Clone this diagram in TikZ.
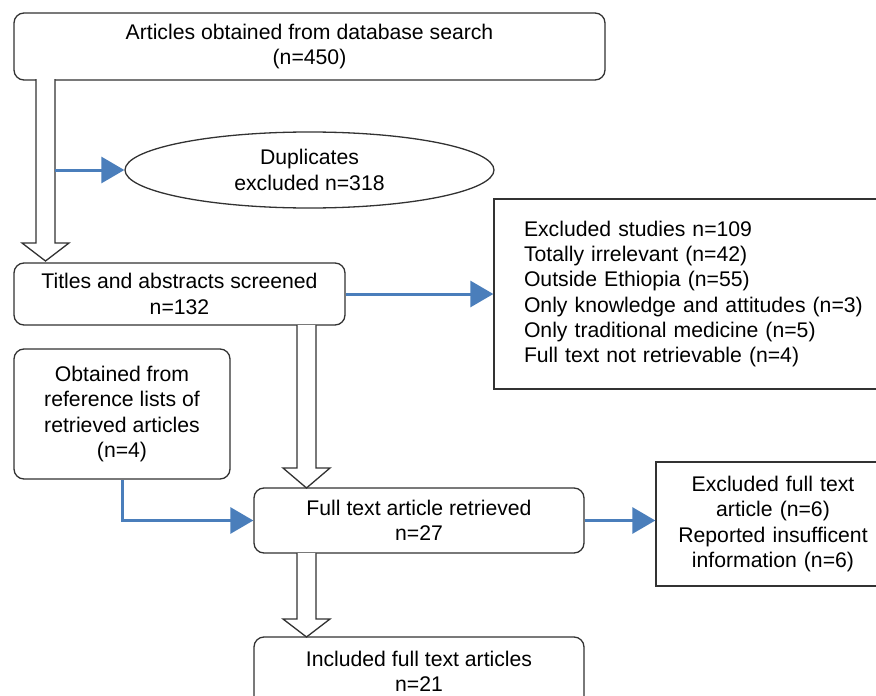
\documentclass[tikz,border=0pt]{standalone}
\usepackage{fontspec}
\setmainfont{Liberation Sans}
\usetikzlibrary{arrows.meta,shapes.geometric,calc}
\definecolor{flowblue}{RGB}{74,126,187}
\definecolor{edge}{RGB}{50,50,50}
\newcommand{\blockarrow}[4]{% cx, ytop, yneck, ytip
  \draw[hollow] (#1-9.5,#2) -- (#1-9.5,#3) -- (#1-23.5,#3) -- (#1,#4) -- (#1+23.5,#3) -- (#1+9.5,#3) -- (#1+9.5,#2);
}
\begin{document}
\begin{tikzpicture}[x=1pt,y=-1pt,
  every node/.style={font=\fontsize{21.2}{25.3}\selectfont},
  rbox/.style={draw=edge,line width=1.3pt,rounded corners=10pt,align=center,inner sep=0pt,fill=white},
  sbox/.style={draw=edge,line width=1.3pt,inner sep=0pt,fill=white},
  hollow/.style={draw=edge,line width=1.3pt,fill=white},
  bluearrow/.style={draw=flowblue,line width=3pt,-{Triangle[length=23pt,width=26pt]}}]
\useasboundingbox (0,0) rectangle (876,696);
\clip (0,0) rectangle (876,696);

\node[rbox,minimum width=591pt,minimum height=67pt] (top) at (309.5,46.5)
  {Articles obtained from database search\\(n=450)};
\node[ellipse,draw=edge,line width=1.3pt,minimum width=369pt,minimum height=76pt,inner sep=0pt,align=center] (dup) at (309.5,170)
  {Duplicates\\excluded n=318};
\node[rbox,minimum width=331pt,minimum height=62pt] (titles) at (179.5,294)
  {Titles and abstracts screened\\n=132};
\node[sbox,minimum width=396pt,minimum height=190pt,text width=356pt,inner xsep=30pt,align=left] (excl) at (702,294)
  {Excluded studies n=109\\Totally irrelevant (n=42)\\Outside Ethiopia (n=55)\\Only knowledge and attitudes (n=3)\\Only traditional medicine (n=5)\\Full text not retrievable (n=4)};
\node[rbox,minimum width=216pt,minimum height=130pt] (obt) at (122,414)
  {Obtained from\\reference lists of\\retrieved articles\\(n=4)};
\node[rbox,minimum width=330pt,minimum height=65pt] (ft) at (419,520.5)
  {Full text article retrieved\\n=27};
\node[sbox,minimum width=234pt,minimum height=124pt,text width=200pt,align=center] (eft) at (773,524)
  {Excluded full text\\article (n=6)\\Reported insufficent\\information (n=6)};
\node[rbox,minimum width=330pt,minimum height=70pt] (inc) at (419,672)
  {};
\node[align=center] (inctext) at (419,671) {Included full text articles\\n=21};

\blockarrow{45.5}{79}{243}{261}
\blockarrow{306.5}{325}{468}{488}
\blockarrow{306.5}{553}{619}{637}

\coordinate (shaft) at (55,170);
\draw[bluearrow] (shaft) -- (dup.west);
\draw[bluearrow] (titles.east) -- (titles.east -| excl.west);
\draw[bluearrow] (obt.south) |- (ft.west);
\draw[bluearrow] (ft.east) -- (ft.east -| eft.west);
\end{tikzpicture}
\end{document}
